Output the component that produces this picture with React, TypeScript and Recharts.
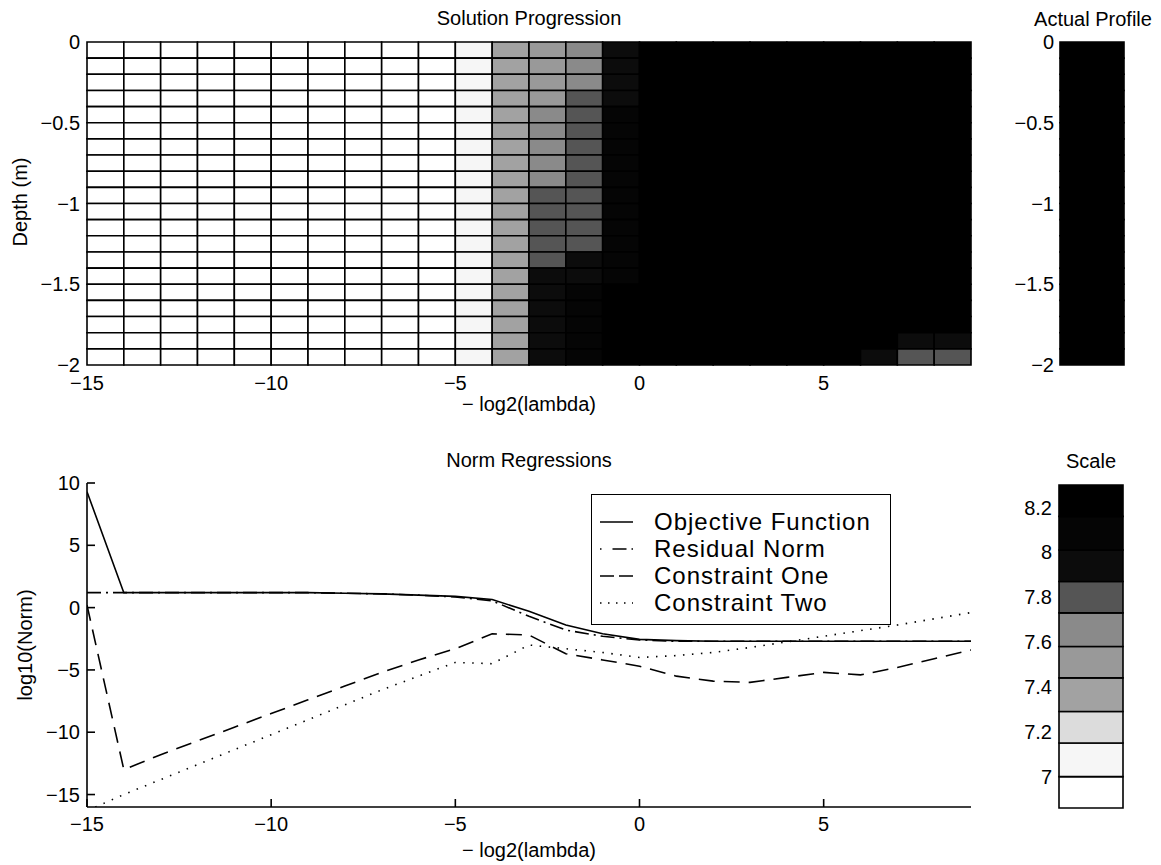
import React from 'react';
import { ComposedChart, XAxis, YAxis, ReferenceArea, Line, Legend } from 'recharts';

const FONT = '"Liberation Sans", Arial, Helvetica, sans-serif';

// ---- Solution progression grid ----
// column edges along -log2(lambda), row edges along depth (m)
const lambdaEdges = [-15, -14, -13, -12, -11, -10, -9, -8, -7, -6, -5, -4, -3, -2, -1, 0, 1, 2, 3, 4, 5, 6, 7, 8, 9];
const depthEdges = [0, -0.1, -0.2, -0.3, -0.4, -0.5, -0.6, -0.7, -0.8, -0.9, -1, -1.1, -1.2, -1.3, -1.4, -1.5, -1.6, -1.7, -1.8, -1.9, -2];

// level used for a whole column unless a depth profile is given below
const columnLevel = [
  6.93, 6.93, 6.93, 6.93, 6.93, 6.93, 6.93, 6.93, 6.93, 6.93,
  7.08, 7.38, 7.66, 7.8, 8.05,
  8.2, 8.2, 8.2, 8.2, 8.2, 8.2, 8.2, 8.2, 8.2,
];

const profileMinus3 = [7.5, 7.5, 7.5, 7.52, 7.62, 7.64, 7.66, 7.68, 7.7, 7.76, 7.78, 7.8, 7.82, 7.84, 7.9, 7.92, 7.93, 7.94, 7.95, 7.95];
const profileMinus2 = [7.66, 7.68, 7.7, 7.76, 7.8, 7.8, 7.82, 7.82, 7.84, 7.84, 7.85, 7.86, 7.86, 7.95, 8.0, 8.05, 8.08, 8.1, 8.1, 8.12];
const profileMinus1 = [7.9, 7.92, 7.95, 7.98, 8.05, 8.08, 8.1, 8.1, 8.12, 8.12, 8.14, 8.14, 8.15, 8.15, 8.15, 8.18, 8.18, 8.18, 8.2, 8.2];

const columnProfiles: Record<number, number[]> = { [-3]: profileMinus3, [-2]: profileMinus2, [-1]: profileMinus1 };

const speckleCells = [
  { lambda: 6, depth: -1.9, level: 7.95 },
  { lambda: 7, depth: -1.9, level: 7.8 },
  { lambda: 8, depth: -1.9, level: 7.8 },
  { lambda: 7, depth: -1.8, level: 7.95 },
  { lambda: 8, depth: -1.8, level: 7.95 },
];

// ---- Actual profile (one column) ----
const actualProfile = [8.22, 8.22, 8.21, 8.22, 8.22, 8.22, 8.21, 8.22, 8.22, 8.22, 8.21, 8.22, 8.22, 8.22, 8.21, 8.22, 8.22, 8.22, 8.22, 8.22];

// ---- Colour scale ----
const scaleEdges = [6.86, 7.0, 7.15, 7.29, 7.44, 7.58, 7.73, 7.87, 8.01, 8.16, 8.3];
const scaleGrays = ['#ffffff', '#f6f6f6', '#dcdcdc', '#a2a2a2', '#999999', '#8a8a8a', '#555555', '#0c0c0c', '#050505', '#000000'];
const scaleTicks = [7, 7.2, 7.4, 7.6, 7.8, 8, 8.2];

// ---- Norm regressions ----
const normX = [-15, -14, -13, -12, -11, -10, -9, -8, -7, -6, -5, -4, -3, -2, -1, 0, 1, 2, 3, 4, 5, 6, 7, 8, 9];
const objectiveFn = [9.3, 1.2, 1.2, 1.2, 1.2, 1.2, 1.2, 1.15, 1.1, 1.0, 0.9, 0.65, -0.3, -1.4, -2.1, -2.55, -2.65, -2.7, -2.7, -2.7, -2.7, -2.7, -2.7, -2.7, -2.7];
const residualNorm = [1.2, 1.2, 1.2, 1.2, 1.2, 1.2, 1.2, 1.15, 1.1, 1.0, 0.85, 0.55, -0.7, -1.8, -2.3, -2.6, -2.7, -2.7, -2.7, -2.7, -2.7, -2.7, -2.7, -2.7, -2.7];
const constraintOne = [0.2, -13.0, -11.8, -10.7, -9.6, -8.5, -7.4, -6.3, -5.2, -4.2, -3.3, -2.1, -2.2, -3.7, -4.2, -4.7, -5.5, -5.9, -6.0, -5.6, -5.2, -5.4, -4.8, -4.1, -3.4];
const constraintTwo = [-16.3, -15.0, -13.8, -12.6, -11.4, -10.2, -9.0, -7.8, -6.6, -5.5, -4.4, -4.5, -3.0, -3.3, -3.6, -4.0, -3.85, -3.6, -3.2, -2.75, -2.3, -1.85, -1.4, -0.9, -0.4];

const normRows = normX.map((x, i) => ({
  x,
  objective: objectiveFn[i],
  residual: residualNorm[i],
  c1: constraintOne[i],
  c2: constraintTwo[i],
}));

const normSeries = [
  { key: 'objective', name: 'Objective Function', dash: undefined, legendDash: undefined },
  { key: 'residual', name: 'Residual Norm', dash: '14 5 2 5', legendDash: '1.5 11 14 5 1.5 40' },
  { key: 'c1', name: 'Constraint One', dash: '16 9', legendDash: '14 5 14 40' },
  { key: 'c2', name: 'Constraint Two', dash: '1.5 7.5', legendDash: '1.5 6.5' },
];

const grayFor = (level: number) => {
  for (let i = 0; i < scaleGrays.length; i++) {
    if (level < scaleEdges[i + 1]) return scaleGrays[i];
  }
  return scaleGrays[scaleGrays.length - 1];
};

const gridCells = (() => {
  const cells: { x1: number; x2: number; y1: number; y2: number; level: number }[] = [];
  for (let c = 0; c < lambdaEdges.length - 1; c++) {
    const lambda = lambdaEdges[c];
    for (let r = 0; r < depthEdges.length - 1; r++) {
      const depth = depthEdges[r];
      let level = columnProfiles[lambda] ? columnProfiles[lambda][r] : columnLevel[c];
      const sp = speckleCells.find((s) => s.lambda === lambda && Math.abs(s.depth - depth) < 1e-9);
      if (sp) level = sp.level;
      cells.push({ x1: lambda, x2: lambdaEdges[c + 1], y1: depthEdges[r + 1], y2: depth, level });
    }
  }
  return cells;
})();

const minus = (v: number) => String(v).replace('-', '\u2212');
const tickFont = { fontSize: 20, fill: '#000', fontFamily: FONT };
const blackLine = { stroke: '#000', strokeWidth: 1.6 };

function Caption({ x, y, text, rotate = false }: { x: number; y: number; text: string; rotate?: boolean }) {
  return (
    <div
      style={{
        position: 'absolute',
        left: x,
        top: y,
        transform: rotate ? 'translate(-50%, -50%) rotate(-90deg)' : 'translate(-50%, -50%)',
        fontSize: 20,
        lineHeight: '20px',
        whiteSpace: 'nowrap',
        fontFamily: FONT,
        color: '#000',
      }}
    >
      {text}
    </div>
  );
}

const renderLegend = () => (
  <div
    style={{
      width: 300,
      height: 131,
      boxSizing: 'border-box',
      border: '1.5px solid #000',
      background: '#fff',
      paddingTop: 13,
      fontFamily: FONT,
      color: '#000',
    }}
  >
    {normSeries.map((s) => (
      <div key={s.key} style={{ display: 'flex', alignItems: 'center', height: 27 }}>
        <svg width={62} height={10} style={{ flex: 'none' }}>
          <line x1={8} x2={41} y1={5} y2={5} stroke="#000" strokeWidth={1.5} strokeDasharray={s.legendDash} />
        </svg>
        <span style={{ fontSize: 24, lineHeight: '24px', letterSpacing: 1 }}>{s.name}</span>
      </div>
    ))}
  </div>
);

export default function App() {
  return (
    <div style={{ position: 'absolute', left: 0, top: 0, width: 1161, height: 865, background: '#fff', fontFamily: FONT }}>
      {/* solution progression */}
      <div style={{ position: 'absolute', left: 0, top: 0 }}>
        <ComposedChart width={990} height={420} margin={{ top: 42, right: 19, bottom: 25, left: 27 }}>
          <XAxis
            type="number"
            dataKey="x"
            domain={[-15, 9]}
            ticks={[-15, -10, -5, 0, 5]}
            interval={0}
            allowDataOverflow
            axisLine={false}
            tickLine={false}
            tickSize={0}
            tickMargin={11}
            height={30}
            tick={tickFont}
            tickFormatter={minus}
          />
          <YAxis
            type="number"
            domain={[-2, 0]}
            ticks={[0, -0.5, -1, -1.5, -2]}
            interval={0}
            allowDataOverflow
            axisLine={false}
            tickLine={false}
            tickSize={0}
            tickMargin={7}
            width={60}
            tick={tickFont}
            tickFormatter={minus}
          />
          {gridCells.map((c) => (
            <ReferenceArea
              key={`${c.x1}_${c.y2}`}
              x1={c.x1}
              x2={c.x2}
              y1={c.y1}
              y2={c.y2}
              fill={grayFor(c.level)}
              fillOpacity={1}
              stroke="#000"
              strokeWidth={1.6}
              ifOverflow="visible"
            />
          ))}
        </ComposedChart>
      </div>

      {/* actual profile */}
      <div style={{ position: 'absolute', left: 990, top: 0 }}>
        <ComposedChart width={171} height={420} margin={{ top: 42, right: 37, bottom: 55, left: 20 }}>
          <XAxis type="number" dataKey="x" domain={[0, 1]} allowDataOverflow hide />
          <YAxis
            type="number"
            domain={[-2, 0]}
            ticks={[0, -0.5, -1, -1.5, -2]}
            interval={0}
            allowDataOverflow
            axisLine={false}
            tickLine={false}
            tickSize={0}
            tickMargin={6}
            width={50}
            tick={tickFont}
            tickFormatter={minus}
          />
          {actualProfile.map((level, r) => (
            <ReferenceArea
              key={r}
              x1={0}
              x2={1}
              y1={depthEdges[r + 1]}
              y2={depthEdges[r]}
              fill={grayFor(level)}
              fillOpacity={1}
              stroke="#000"
              strokeWidth={1.6}
              ifOverflow="visible"
            />
          ))}
        </ComposedChart>
      </div>

      {/* norm regressions */}
      <div style={{ position: 'absolute', left: 0, top: 440 }}>
        <ComposedChart width={990} height={425} data={normRows} margin={{ top: 43, right: 19, bottom: 28, left: 27 }}>
          <XAxis
            type="number"
            dataKey="x"
            domain={[-15, 9]}
            ticks={[-15, -10, -5, 0, 5]}
            interval={0}
            allowDataOverflow
            height={30}
            tickSize={-8}
            tickMargin={18}
            axisLine={blackLine}
            tickLine={blackLine}
            tick={tickFont}
            tickFormatter={minus}
          />
          <YAxis
            type="number"
            domain={[-16, 10]}
            ticks={[-15, -10, -5, 0, 5, 10]}
            interval={0}
            allowDataOverflow
            width={60}
            tickSize={-8}
            tickMargin={15}
            axisLine={blackLine}
            tickLine={blackLine}
            tick={tickFont}
            tickFormatter={minus}
          />
          {normSeries.map((s) => (
            <Line
              key={s.key}
              dataKey={s.key}
              name={s.name}
              type="linear"
              stroke="#000"
              strokeWidth={1.6}
              strokeDasharray={s.dash}
              dot={false}
              activeDot={false}
              isAnimationActive={false}
            />
          ))}
          <Legend
            layout="vertical"
            align="center"
            verticalAlign="middle"
            wrapperStyle={{ left: 591, top: 54, width: 300 }}
            content={renderLegend}
          />
        </ComposedChart>
      </div>

      {/* colour scale */}
      <div style={{ position: 'absolute', left: 990, top: 440 }}>
        <ComposedChart width={171} height={425} margin={{ top: 45, right: 38, bottom: 57, left: 19 }}>
          <XAxis type="number" dataKey="x" domain={[0, 1]} allowDataOverflow hide />
          <YAxis
            type="number"
            domain={[6.86, 8.3]}
            ticks={scaleTicks}
            interval={0}
            allowDataOverflow
            axisLine={false}
            tickLine={false}
            tickSize={0}
            tickMargin={7}
            width={50}
            tick={tickFont}
          />
          {scaleGrays.map((g, i) => (
            <ReferenceArea
              key={i}
              x1={0}
              x2={1}
              y1={scaleEdges[i]}
              y2={scaleEdges[i + 1]}
              fill={g}
              fillOpacity={1}
              stroke="#000"
              strokeWidth={1.6}
              ifOverflow="visible"
            />
          ))}
        </ComposedChart>
      </div>

      <Caption x={529} y={18} text="Solution Progression" />
      <Caption x={1093} y={19} text="Actual Profile" />
      <Caption x={529} y={404} text={'\u2212 log2(lambda)'} />
      <Caption x={20} y={202} text="Depth (m)" rotate />
      <Caption x={529} y={460} text="Norm Regressions" />
      <Caption x={1091} y={461} text="Scale" />
      <Caption x={529} y={850} text={'\u2212 log2(lambda)'} />
      <Caption x={25} y={645} text="log10(Norm)" rotate />
    </div>
  );
}
